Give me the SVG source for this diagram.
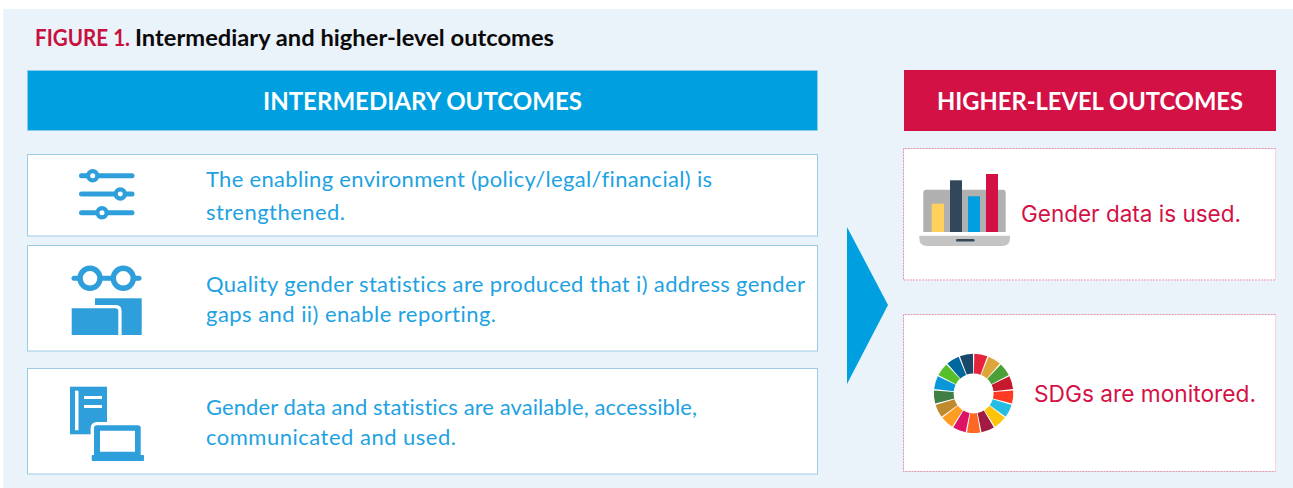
<svg xmlns="http://www.w3.org/2000/svg" width="1293" height="488" viewBox="0 0 1293 488">
<style>
.bg{fill:#eaf2fa}
.lb{fill:#fff;stroke:#9ccbe6;stroke-width:1}
.rb{fill:#fff}
.re{fill:none;stroke:#e08fae;stroke-width:1;stroke-dasharray:2 1}
.rs{fill:none;stroke:#f6d5e1;stroke-width:1}
.hd{font-family:"Lato","Liberation Sans",sans-serif;font-weight:700;font-size:25px;fill:#fff}
.bt{font-family:"Lato","Liberation Sans",sans-serif;font-size:22px;fill:#1ea2e2;font-variant-ligatures:none}
.rt{font-family:"Inter","Liberation Sans",sans-serif;font-size:22.5px;fill:#d31145}
.ic{fill:#2e9fda}
.il{stroke:#2e9fda;fill:none;stroke-linecap:round}
</style>
<defs>
<path id="seg" d="M.69-39.69A39.7 39.7 0 0 1 13.71-37.26L6.9-18.77A20 20 0 0 0 .35-20Z"/>
</defs>
<rect width="1293" height="488" fill="#fff"/>
<rect class="bg" x="3.5" y="9" width="1289.5" height="479"/>
<text id="title" y="46" font-family="Lato,'Liberation Sans',sans-serif" font-weight="700" font-size="22px"><tspan x="35" fill="#c8103e" textLength="95" lengthAdjust="spacingAndGlyphs">FIGURE 1.</tspan><tspan x="135" fill="#0a0a0a" textLength="419" lengthAdjust="spacingAndGlyphs">Intermediary and higher-level outcomes</tspan></text>

<g id="header-intermediary">
<rect x="27.5" y="70.5" width="790" height="60" fill="#009fdf" stroke="#9ccbe6" stroke-width=".6"/>
<text class="hd" x="263" y="110" textLength="319" lengthAdjust="spacingAndGlyphs">INTERMEDIARY OUTCOMES</text>
</g>
<g id="header-higher">
<rect x="904" y="70" width="372" height="61" fill="#d31145"/>
<text class="hd" x="937" y="110" textLength="306" lengthAdjust="spacingAndGlyphs">HIGHER-LEVEL OUTCOMES</text>
</g>

<g id="node-enabling">
<rect class="lb" x="27.5" y="154.5" width="790" height="81.5"/>
<path class="il" stroke-width="5" d="M81.5 175.7H132M81.5 194H132M81.5 212.7H132"/>
<g fill="#fff" stroke="#2e9fda" stroke-width="4.2"><circle cx="92.7" cy="175.7" r="4.6"/><circle cx="120.3" cy="194" r="4.6"/><circle cx="102" cy="212.7" r="4.6"/></g>
<text class="bt" x="206" y="187.3" textLength="506">The enabling environment (policy/legal/financial) is</text>
<text class="bt" x="206" y="220" textLength="139">strengthened.</text>
</g>

<g id="node-quality">
<rect class="lb" x="27.5" y="245.5" width="790" height="105.5"/>
<path class="il" stroke-width="5" d="M74 278.3H139"/>
<g fill="#fff" stroke="#2e9fda" stroke-width="5.4"><circle cx="90" cy="278.3" r="10"/><circle cx="123.3" cy="278.3" r="10"/></g>
<rect class="ic" x="95" y="298.3" width="46.7" height="36.7"/>
<path fill="#fff" d="M71.7 305H116Q121.6 305 121.6 311V335H71.7Z"/>
<path class="ic" d="M71.7 335V308.3H115.3Q118.3 308.3 118.3 311.3V335Z"/>
<text class="bt" x="206" y="291.7" textLength="599">Quality gender statistics are produced that i) address gender</text>
<text class="bt" x="206" y="321.7" textLength="290">gaps and ii) enable reporting.</text>
</g>

<g id="node-available">
<rect class="lb" x="27.5" y="368.5" width="790" height="105.5"/>
<rect class="ic" x="70" y="386.7" width="37" height="47.6"/>
<rect x="75" y="390.7" width="3.5" height="39.5" fill="#fff"/>
<rect x="84" y="396" width="18" height="3" fill="#fff"/>
<rect x="84" y="405" width="18" height="3" fill="#fff"/>
<rect x="90.6" y="422" width="53.5" height="33" rx="6" fill="#fff"/>
<path class="ic" fill-rule="evenodd" d="M97 425.3H138Q140.7 425.3 140.7 428V455H94V428Q94 425.3 97 425.3ZM100 430.7V451.7H135V430.7Z"/>
<rect class="ic" x="91.7" y="455" width="52.3" height="6" rx="1"/>
<text class="bt" x="206" y="415" textLength="491">Gender data and statistics are available, accessible,</text>
<text class="bt" x="206" y="445" textLength="250">communicated and used.</text>
</g>

<g id="node-data-used">
<rect class="rb" x="903.5" y="148.5" width="372.5" height="132"/>
<path class="rs" d="M1275.6 148.5V280"/>
<path class="re" d="M1275.6 148.5H903.5V280H1275.6"/>
<path fill="#b0b0b0" d="M923.3 232V192.7Q923.3 189.7 926.3 189.7H1002.7Q1005.7 189.7 1005.7 192.7V232Z"/>
<rect x="931.7" y="203.7" width="12.3" height="28.3" fill="#ffd05c"/>
<rect x="950" y="180.3" width="12" height="51.7" fill="#33475b"/>
<rect x="968" y="196.3" width="12" height="35.7" fill="#009fdf"/>
<rect x="986" y="174" width="12" height="58" fill="#d31145"/>
<path fill="#c4c4c4" d="M919.3 235.7H1010V238Q1010 246 1002 246H927.3Q919.3 246 919.3 238Z"/>
<rect x="956" y="239" width="18.5" height="2.6" rx="1.3" fill="#33475b"/>
<text class="rt" x="1021" y="222" textLength="220" lengthAdjust="spacingAndGlyphs">Gender data is used.</text>
</g>

<g id="node-sdgs">
<rect class="rb" x="903.5" y="314.5" width="372.5" height="157"/>
<path class="rs" d="M1275.6 314.5V471.5"/>
<path class="re" d="M1275.6 314.5H903.5V471.5H1275.6"/>
<g transform="translate(973.6 393.4)">
<use href="#seg" fill="#e5243b"/>
<use href="#seg" fill="#dda63a" transform="rotate(21.18)"/>
<use href="#seg" fill="#4c9f38" transform="rotate(42.35)"/>
<use href="#seg" fill="#c5192d" transform="rotate(63.53)"/>
<use href="#seg" fill="#ff3a21" transform="rotate(84.71)"/>
<use href="#seg" fill="#26bde2" transform="rotate(105.88)"/>
<use href="#seg" fill="#fcc30b" transform="rotate(127.06)"/>
<use href="#seg" fill="#a21942" transform="rotate(148.24)"/>
<use href="#seg" fill="#fd6925" transform="rotate(169.41)"/>
<use href="#seg" fill="#dd1367" transform="rotate(190.59)"/>
<use href="#seg" fill="#fd9d24" transform="rotate(211.76)"/>
<use href="#seg" fill="#bf8b2e" transform="rotate(232.94)"/>
<use href="#seg" fill="#3f7e44" transform="rotate(254.12)"/>
<use href="#seg" fill="#0a97d9" transform="rotate(275.29)"/>
<use href="#seg" fill="#56c02b" transform="rotate(296.47)"/>
<use href="#seg" fill="#00689d" transform="rotate(317.65)"/>
<use href="#seg" fill="#19486a" transform="rotate(338.82)"/>
</g>
<text class="rt" x="1034" y="401.5" textLength="222" lengthAdjust="spacingAndGlyphs">SDGs are monitored.</text>
</g>

<g id="connectors">
<polygon points="847,227 888,305 847,384" fill="#009fdf"/>
</g>
</svg>
